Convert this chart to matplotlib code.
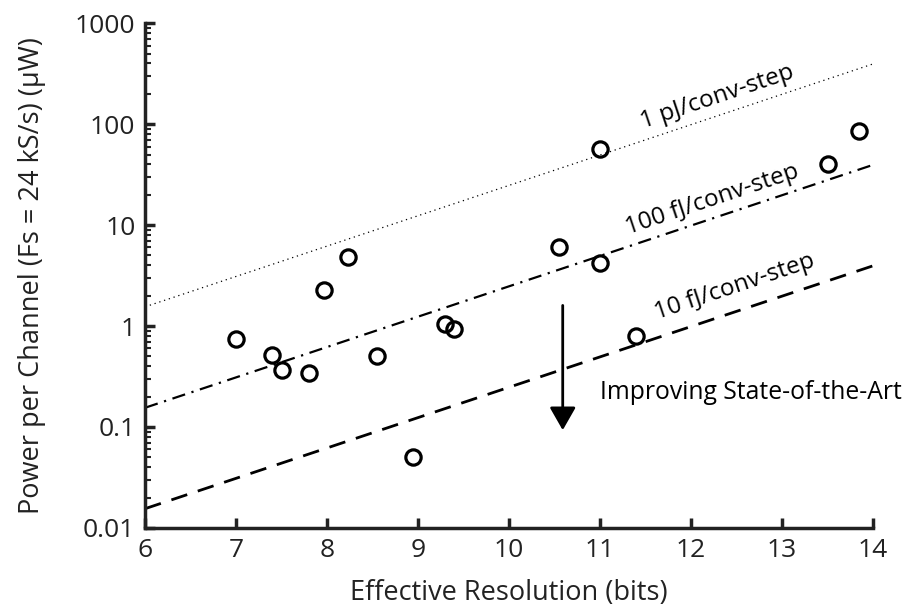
import numpy as np
import matplotlib.pyplot as plt
from matplotlib.ticker import FixedLocator, LogLocator, NullFormatter

plt.rcParams['font.family'] = ['Open Sans', 'DejaVu Sans']

# measured designs (ENOB, power per channel in uW)
enob = [7.0, 7.4, 7.5, 7.8, 7.97, 8.23, 8.55, 8.95, 9.3, 9.4,
        10.55, 11.0, 11.0, 11.4, 13.5, 13.85]
power = [0.75, 0.52, 0.37, 0.34, 2.3, 4.8, 0.5, 0.05, 1.05, 0.93,
         6.0, 57, 4.2, 0.8, 40, 85]

# figure-of-merit lines, end points read at x = 6 and x = 14
fom_x = [6, 14]
fom_1pJ = [1.55, 395]
fom_100fJ = [0.155, 39.5]
fom_10fJ = [0.0155, 3.95]

yticks = [0.01, 0.1, 1, 10, 100, 1000]
ytick_labels = ['0.01', '0.1', '1', '10', '100', '1000']

fig = plt.figure(figsize=(9.18, 6.11), dpi=100)
ax = fig.add_axes([0.158, 0.136, 0.793, 0.826])

ax.plot(fom_x, fom_1pJ, color='k', linestyle=(0, (1, 3)), lw=0.9)
ax.plot(fom_x, fom_100fJ, color='k', linestyle=(0, (6, 3, 1, 3)), lw=1.6)
ax.plot(fom_x, fom_10fJ, color='k', linestyle=(0, (6, 4)), lw=2)
ax.plot(enob, power, 'o', mfc='none', mec='k', ms=11, mew=2.3)

ax.text(12.29, 186, '1 pJ/conv-step', rotation=18.5, ha='center', va='center', fontsize=17.5)
ax.text(12.23, 17.8, '100 fJ/conv-step', rotation=18.5, ha='center', va='center', fontsize=17.5)
ax.text(12.48, 2.43, '10 fJ/conv-step', rotation=18.5, ha='center', va='center', fontsize=17.5)

ax.annotate('', xy=(10.59, 0.093), xytext=(10.59, 1.6),
            arrowprops=dict(arrowstyle='-|>,head_width=0.8,head_length=1.4',
                            color='k', lw=2, shrinkA=0, shrinkB=0))
ax.text(11.0, 0.222, 'Improving State-of-the-Art', ha='left', va='center', fontsize=17.8)

ax.set_yscale('log')
ax.set_xlim(6, 14)
ax.set_ylim(0.01, 1000)
ax.set_xticks(range(6, 15))
ax.yaxis.set_major_locator(FixedLocator(yticks))
ax.set_yticklabels(ytick_labels)
ax.yaxis.set_minor_locator(LogLocator(base=10, subs=np.arange(2, 10)))
ax.yaxis.set_minor_formatter(NullFormatter())

for s in ['top', 'right']:
    ax.spines[s].set_visible(False)
for s in ['left', 'bottom']:
    ax.spines[s].set_linewidth(2.5)
    ax.spines[s].set_color('#222222')
ax.tick_params(which='major', direction='in', length=7, width=2.5, labelsize=19,
               colors='#222222', pad=7)
ax.tick_params(which='minor', direction='in', length=4, width=1.5, colors='#222222')

ax.set_xlabel('Effective Resolution (bits)', fontsize=19.5, color='#222222', labelpad=12)
ax.set_ylabel('Power per Channel (Fs = 24 kS/s) (\u03bcW)', fontsize=19.5, color='#222222', labelpad=21)

fig.savefig('out.png', dpi=100)
